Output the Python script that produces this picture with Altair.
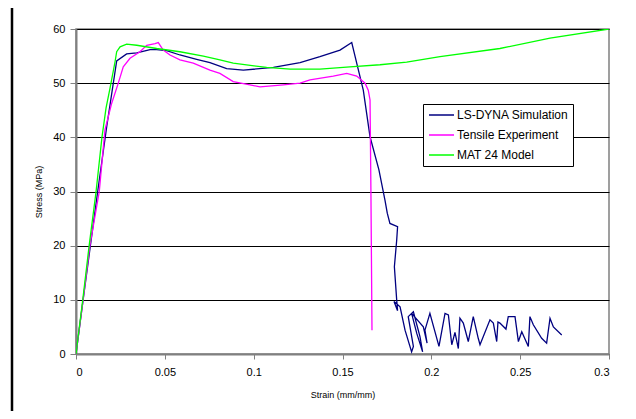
import altair as alt
import pandas as pd

# ---- data ----
lsdyna_strain = [0, 0.0040, 0.0122, 0.0173, 0.0210, 0.0229, 0.0285, 0.0342, 0.0417, 0.0454,
                 0.0510, 0.0585, 0.0679, 0.0754, 0.0848, 0.0942, 0.1111, 0.1261, 0.1373, 0.1486,
                 0.1552, 0.1580, 0.1617, 0.1655, 0.1705, 0.1739, 0.1752, 0.1767, 0.1810, 0.1805,
                 0.1792, 0.1805, 0.1810, 0.1790, 0.1824, 0.1852, 0.1889, 0.1899, 0.1870, 0.1899,
                 0.1936, 0.1951, 0.1918, 0.1889, 0.1955, 0.1976, 0.1964, 0.1992, 0.2043, 0.2077,
                 0.2096, 0.2115, 0.2133, 0.2152, 0.2161, 0.2180, 0.2208, 0.2236, 0.2264, 0.2274,
                 0.2330, 0.2349, 0.2368, 0.2375, 0.2386, 0.2420, 0.2433, 0.2471, 0.2490, 0.2509,
                 0.2546, 0.2555, 0.2574, 0.2621, 0.2649, 0.2668, 0.2687, 0.2734]
lsdyna_stress = [0, 10, 30, 42, 50, 54.1, 55.4, 55.6, 56.2, 56.2,
                 56.0, 55.2, 54.4, 53.8, 52.7, 52.4, 52.9, 53.8, 54.9, 56.1,
                 57.5, 53.7, 48.7, 40.1, 34.0, 28.4, 26.0, 24.1, 23.5, 21.0,
                 16.1, 10.0, 8.0, 9.7, 8.7, 4.4, 0.4, 1.4, 6.9, 7.8,
                 3.2, 0.4, 3.8, 7.5, 5.0, 2.0, 4.4, 7.5, 1.4, 7.5,
                 7.2, 1.7, 4.0, 1.0, 6.6, 5.7, 2.3, 6.9, 2.9, 1.7,
                 6.3, 5.7, 2.3, 5.9, 5.7, 4.6, 6.9, 6.9, 2.3, 4.1,
                 1.4, 6.9, 5.4, 2.9, 2.0, 6.6, 5.0, 3.5]

tensile_strain = [0, 0.0040, 0.0078, 0.0131, 0.0163, 0.0201, 0.0238, 0.0266, 0.0304, 0.0360,
                  0.0398, 0.0445, 0.0463, 0.0491, 0.0529, 0.0585, 0.0660, 0.0754, 0.0810, 0.0885,
                  0.0979, 0.1036, 0.1167, 0.1261, 0.1317, 0.1448, 0.1524, 0.1580, 0.1627, 0.1645,
                  0.1655, 0.1660, 0.1666]
tensile_stress = [0, 10, 20, 30, 41.4, 46.3, 50.0, 53.0, 54.6, 55.8,
                  57.0, 57.3, 57.5, 56.1, 55.2, 54.3, 53.7, 52.4, 51.8, 50.3,
                  49.7, 49.3, 49.7, 50.0, 50.6, 51.3, 51.8, 51.3, 50.0, 48.7,
                  46.9, 30.0, 4.4]

mat24_strain = [0, 0.0038, 0.0074, 0.0113, 0.0146, 0.0169, 0.0191, 0.0220, 0.0229, 0.0248,
                0.0285, 0.0342, 0.0454, 0.0585, 0.0717, 0.0810, 0.0885, 0.1073, 0.1205, 0.1373,
                0.1542, 0.1711, 0.1861, 0.2049, 0.2386, 0.2668, 0.3]
mat24_stress = [0, 10, 20, 30, 40, 45.4, 49.0, 54.0, 55.8, 56.7,
                57.2, 57.0, 56.4, 55.8, 55.0, 54.3, 53.7, 52.9, 52.6, 52.6,
                53.0, 53.4, 53.9, 54.9, 56.4, 58.3, 60.0]

series_names = ["LS-DYNA Simulation", "Tensile Experiment", "MAT 24 Model"]
series_colors = ["#000080", "#FF00FF", "#00FF00"]
x_ticks = [0, 0.05, 0.1, 0.15, 0.2, 0.25, 0.3]
y_ticks = [0, 10, 20, 30, 40, 50, 60]

rows = []
for name, xs, ys in zip(series_names,
                        [lsdyna_strain, tensile_strain, mat24_strain],
                        [lsdyna_stress, tensile_stress, mat24_stress]):
    assert len(xs) == len(ys), name
    for i, (a, b) in enumerate(zip(xs, ys)):
        rows.append({"series": name, "strain": a, "stress": b, "idx": i})
df = pd.DataFrame(rows)

FONT = "Liberation Sans"

lines = alt.Chart(df).mark_line(strokeWidth=1.3, clip=True).encode(
    x=alt.X("strain:Q",
            scale=alt.Scale(domain=[0, 0.3], nice=False),
            axis=alt.Axis(values=x_ticks, format="~g", title="Strain (mm/mm)",
                          grid=False, tickSize=5, labelPadding=7,
                          titleX=266.5, titleY=40, titleBaseline="middle")),
    y=alt.Y("stress:Q",
            scale=alt.Scale(domain=[0, 60], nice=False),
            axis=alt.Axis(values=y_ticks, title="Stress (MPa)", grid=True,
                          gridColor="#000000", gridWidth=1, tickSize=6, labelPadding=5,
                          titleX=-38, titleY=162.5, titleBaseline="middle")),
    color=alt.Color("series:N",
                    scale=alt.Scale(domain=series_names, range=series_colors),
                    sort=series_names,
                    legend=alt.Legend(title=None, orient="none", legendX=347, legendY=75,
                                      fillColor="white", strokeColor="black", padding=4,
                                      symbolType="stroke", symbolSize=625, symbolStrokeWidth=1.5,
                                      symbolOffset=1, labelFontSize=12, labelFont=FONT,
                                      labelColor="black", labelOffset=2, rowPadding=6,
                                      clipHeight=14)),
    order=alt.Order("idx:Q"),
)

border_v = alt.Chart(pd.DataFrame({"a": [0]})).mark_rule(color="black", strokeWidth=2.5).encode(
    x=alt.value(-64), y=alt.value(-24), y2=alt.value(400))
border_h = alt.Chart(pd.DataFrame({"a": [0]})).mark_rule(color="black", strokeWidth=2.5).encode(
    x=alt.value(-65), x2=alt.value(600), y=alt.value(-24))

chart = alt.layer(lines, border_v, border_h).properties(
    width=533, height=325,
    padding={"left": 68, "top": 21, "right": 19, "bottom": 57},
    autosize="none",
).configure(font=FONT).configure_view(
    stroke="#808080", strokeWidth=1.5
).configure_axis(
    domainColor="#808080", domainWidth=2, tickColor="#808080", tickWidth=1,
    labelFont=FONT, labelFontSize=11, labelColor="black",
    titleFont=FONT, titleFontSize=9, titleFontWeight="normal", titleColor="black",
)

chart.save("out.html", embed_options={"renderer": "svg", "actions": False})
